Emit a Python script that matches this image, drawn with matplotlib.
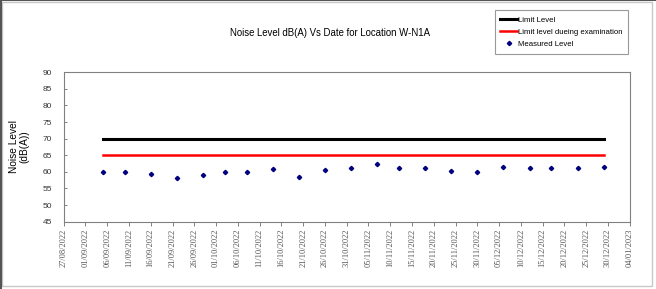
import numpy as np
import pandas as pd
import matplotlib
matplotlib.use('Agg')
import matplotlib.pyplot as plt
import matplotlib.dates as mdates
from matplotlib.lines import Line2D
from matplotlib.patches import Rectangle

dates = ['05/09/2022', '10/09/2022', '16/09/2022', '22/09/2022', '28/09/2022',
         '03/10/2022', '08/10/2022', '14/10/2022', '20/10/2022', '26/10/2022',
         '01/11/2022', '07/11/2022', '12/11/2022', '18/11/2022', '24/11/2022',
         '30/11/2022', '06/12/2022', '12/12/2022', '17/12/2022', '23/12/2022',
         '29/12/2022']
measured = [59.9, 59.9, 59.4, 58.0, 59.2, 60.1, 60.0, 61.0, 58.5, 60.5,
            61.3, 62.4, 61.3, 61.2, 60.4, 59.9, 61.5, 61.2, 61.3, 61.1, 61.4]
limit_level = 70
limit_exam = 65

x_start = '27/08/2022'
x_end = '04/01/2023'

dates = pd.to_datetime(dates, format='%d/%m/%Y')
x0 = pd.to_datetime(x_start, format='%d/%m/%Y')
x1 = pd.to_datetime(x_end, format='%d/%m/%Y')

plt.rcParams['font.family'] = ['Liberation Sans', 'DejaVu Sans']

fig = plt.figure(figsize=(6.56, 2.89), dpi=100)
ax = fig.add_axes([0.097, 0.233, 0.863, 0.517])

ax.plot(dates, [limit_level] * len(dates), color='black', lw=2.2, label='Limit Level')
ax.plot(dates, [limit_exam] * len(dates), color='red', lw=1.8, label='Limit level dueing examination')
ax.plot(dates, measured, ls='none', marker='D', ms=2.2, color='#000080', label='Measured Level')

ax.set_xlim(x0, x1)
ax.set_ylim(45, 90)
ax.set_yticks(np.arange(45, 91, 5))
ax.set_xticks(pd.date_range(x0, x1, freq='5D'))
ax.xaxis.set_major_formatter(mdates.DateFormatter('%d/%m/%Y'))

for lbl in ax.get_xticklabels():
    lbl.set_rotation(90)
    lbl.set_family('Liberation Serif')
    lbl.set_fontsize(6)
    lbl.set_color('#555555')
for lbl in ax.get_yticklabels():
    lbl.set_fontsize(6)
    lbl.set_color('#333333')

ax.tick_params(axis='x', direction='out', length=3, width=0.7, color='#808080', pad=2)
ax.tick_params(axis='y', direction='in', length=2.5, width=0.7, color='#808080', pad=8.5)
for s in ax.spines.values():
    s.set_color('#808080')
    s.set_linewidth(0.8)

ax.set_ylabel('Noise Level\n(dB(A))', fontsize=7.3, linespacing=1.1, labelpad=9)
fig.text(0.503, 0.885, 'Noise Level dB(A) Vs Date for Location W-N1A',
         ha='center', va='center', fontsize=6.9)

leg = fig.legend(loc='upper right', bbox_to_anchor=(0.963, 0.978), fontsize=5.6,
                 fancybox=False, edgecolor='#808080', handlelength=2.15,
                 handletextpad=0.05, borderpad=0.75, labelspacing=0.6)
leg.get_frame().set_linewidth(0.8)

# chart area border and outer frame
fig.patches.append(Rectangle((2 / 656, 3 / 289), 650 / 656, 284 / 289,
                             transform=fig.transFigure, fill=False,
                             edgecolor='#c8c8c8', lw=1))
fig.add_artist(Line2D([0.001, 0.001], [0, 1], transform=fig.transFigure, color='#555555', lw=1.5))
fig.add_artist(Line2D([0, 1], [0.999, 0.999], transform=fig.transFigure, color='#555555', lw=1.5))

plt.savefig('out.png', dpi=100)
